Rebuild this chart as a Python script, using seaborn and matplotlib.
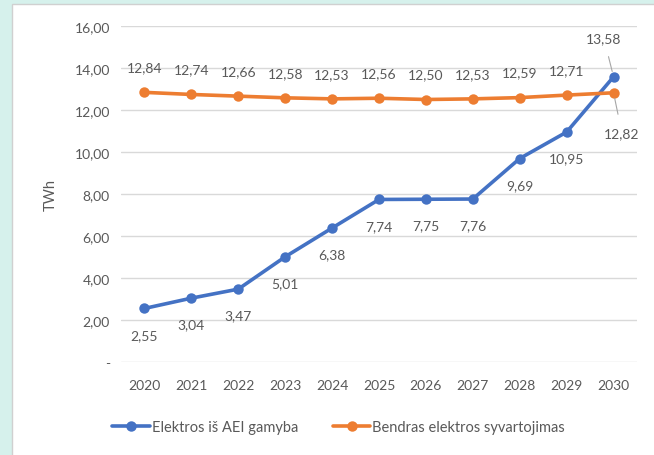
import matplotlib
matplotlib.use("Agg")
import matplotlib.pyplot as plt
import seaborn as sns
import pandas as pd
from matplotlib.patches import Rectangle

years = ["2020", "2021", "2022", "2023", "2024", "2025", "2026", "2027", "2028", "2029", "2030"]
aei = [2.55, 3.04, 3.47, 5.01, 6.38, 7.74, 7.75, 7.76, 9.69, 10.95, 13.58]
total = [12.84, 12.74, 12.66, 12.58, 12.53, 12.56, 12.50, 12.53, 12.59, 12.71, 12.82]
series_names = ["Elektros iš AEI gamyba", "Bendras elektros syvartojimas"]
y_ticks = [0, 2, 4, 6, 8, 10, 12, 14, 16]
y_tick_labels = ["-", "2,00", "4,00", "6,00", "8,00", "10,00", "12,00", "14,00", "16,00"]

BLUE = "#4472C4"
ORANGE = "#ED7D31"
TXT = "#595959"

df = pd.DataFrame({
    "year": years * 2,
    "value": aei + total,
    "series": [series_names[0]] * len(years) + [series_names[1]] * len(years),
})

sns.set_theme(style="white")
plt.rcParams["font.family"] = ["Lato", "DejaVu Sans"]

fig = plt.figure(figsize=(6.54, 4.56), dpi=100)
fig.patch.set_facecolor("#D6F1EC")
bg = Rectangle((12 / 654, -0.01), 1, 1.01 - 4.5 / 456, transform=fig.transFigure,
               facecolor="white", edgecolor="#D0D0D0", linewidth=1.0, zorder=-10)
fig.add_artist(bg)
ax = fig.add_axes([121 / 654, 1 - 363 / 456, (637 - 121) / 654, (363 - 27) / 456])
ax.set_facecolor("none")

sns.lineplot(data=df, x="year", y="value", hue="series", palette=[BLUE, ORANGE],
             marker="o", markersize=7.5, markeredgewidth=0, linewidth=2.6, ax=ax,
             sort=False, legend=True, zorder=3)

ax.set_xlim(-0.5, len(years) - 0.5)
ax.set_ylim(0, 16)
ax.set_yticks(y_ticks)
ax.set_yticklabels(y_tick_labels)
ax.yaxis.grid(True, color="#D9D9D9", linewidth=1.0)
ax.set_axisbelow(True)
for s in ax.spines.values():
    s.set_visible(False)
ax.tick_params(axis="both", colors=TXT, labelsize=10, length=0, pad=8)
ax.tick_params(axis="x", pad=12)
ax.set_xlabel("")
ax.set_ylabel("TWh", color=TXT, fontsize=10.5, labelpad=12)

def fmt(v):
    return f"{v:.2f}".replace(".", ",")

n = len(years)
for i, (a, t) in enumerate(zip(aei, total)):
    if i < n - 1:
        ax.annotate(fmt(a), (i, a), xytext=(0, -19), textcoords="offset points",
                    ha="center", va="center", fontsize=10, color=TXT)
        ax.annotate(fmt(t), (i, t), xytext=(0, 18), textcoords="offset points",
                    ha="center", va="center", fontsize=10, color=TXT)
    else:
        ax.annotate(fmt(a), (i, a), xytext=(-7, 28), textcoords="offset points",
                    ha="center", va="center", fontsize=10, color=TXT,
                    arrowprops=dict(arrowstyle="-", color="#A6A6A6", lw=0.8,
                                    shrinkA=7, shrinkB=4))
        ax.annotate(fmt(t), (i, t), xytext=(6, -29), textcoords="offset points",
                    ha="center", va="center", fontsize=10, color=TXT,
                    arrowprops=dict(arrowstyle="-", color="#A6A6A6", lw=0.8,
                                    shrinkA=7, shrinkB=4))

handles, labels = ax.get_legend_handles_labels()
ax.get_legend().remove()
leg = fig.legend(handles, labels, loc="center", bbox_to_anchor=(0.518, 1 - 428 / 456),
                 ncol=2, frameon=False, fontsize=10.5, handlelength=2.55,
                 columnspacing=2.4, handletextpad=0.15)
for txt in leg.get_texts():
    txt.set_color(TXT)

fig.savefig("out.png", dpi=100, facecolor=fig.get_facecolor())
